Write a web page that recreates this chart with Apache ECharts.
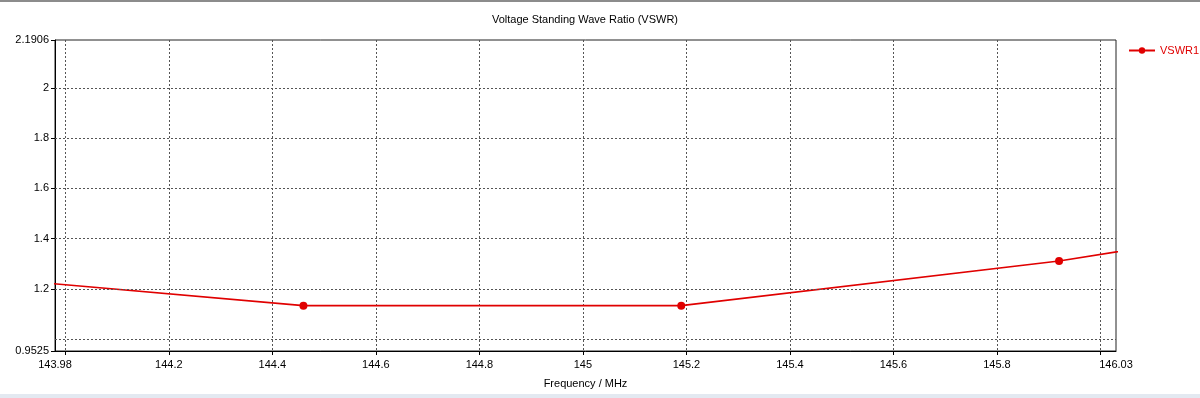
<!DOCTYPE html>
<html>
<head>
    <meta charset="utf-8">
    <script src="https://cdn.jsdelivr.net/npm/echarts@6/dist/echarts.min.js"></script>
    <style>
        html, body { margin: 0; padding: 0; background: #fff; }
    </style>
</head>
<body>
    <div id="main" style="width: 1200px;height:398px;"></div>
	<script type="text/javascript">
        // 数据
        var freqs = [143.73, 144.46, 145.19, 145.92, 146.65];
        var vswr1 = [1.265, 1.133, 1.133, 1.311, 1.55];
        var xTickLabels = ['143.98', '144.2', '144.4', '144.6', '144.8', '145', '145.2', '145.4', '145.6', '145.8', '146.03'];
        var xGridValues = [144.0, 144.2, 144.4, 144.6, 144.8, 145.0, 145.2, 145.4, 145.6, 145.8, 146.0];
        var yTickLabels = ['0.9525', '1.2', '1.4', '1.6', '1.8', '2', '2.1906'];
        var yGridValues = [1.0, 1.2, 1.4, 1.6, 1.8, 2.0];

        var font = 'Liberation Sans';
        function nums(list) {
            return list.map(function (s) { return parseFloat(s); });
        }

        var myChart = echarts.init(document.getElementById('main'));
		myChart.setOption({
            animation: false,
			title: {
				text: 'Voltage Standing Wave Ratio (VSWR)',
                left: 585, top: 14, textAlign: 'center', padding: 0,
                textStyle: { fontFamily: font, fontSize: 11, fontWeight: 'normal', color: '#000' }
			},
			legend: {
				data: ['VSWR1'],
                left: 1128, top: 45, padding: 0,
                itemWidth: 26, itemHeight: 8, itemGap: 4,
                textStyle: { fontFamily: font, fontSize: 11, color: '#e00000', padding: [0, 0, 0, 0] }
			},
            grid: {
                left: 55, right: 84, top: 40, bottom: 47,
                show: true, borderColor: '#222', borderWidth: 1, backgroundColor: '#fff'
            },
			xAxis: {
                type: 'value',
                min: 143.98, max: 146.03,
                name: 'Frequency / MHz', nameLocation: 'middle', nameGap: 27,
                nameTextStyle: { fontFamily: font, fontSize: 11, color: '#000' },
                axisLine: { onZero: false, lineStyle: { color: '#000' } },
                axisTick: { show: true, length: 4, customValues: xGridValues, lineStyle: { color: '#000' } },
                axisLabel: { customValues: nums(xTickLabels), formatter: function (v) {
                    return xTickLabels[nums(xTickLabels).indexOf(v)] || String(v);
                }, margin: 8, fontFamily: font, fontSize: 11, color: '#000' },
                splitLine: { show: true, lineStyle: { type: [2, 2], color: '#555' } }
            },
			yAxis: {
                type: 'value',
                min: 0.9525, max: 2.1906,
                axisLine: { show: true, lineStyle: { color: '#000' } },
                axisTick: { show: true, length: 4, customValues: nums(yTickLabels), lineStyle: { color: '#000' } },
                axisLabel: { customValues: nums(yTickLabels), formatter: function (v) {
                    return yTickLabels[nums(yTickLabels).indexOf(v)] || String(v);
                }, margin: 6, fontFamily: font, fontSize: 11, color: '#000' },
                splitLine: { show: false }
            },
            // y 网格线用第二个不显示的轴画
			series: [{
				name: 'VSWR1',
				type: 'line',
                data: freqs.map(function (f, i) { return [f, vswr1[i]]; }),
                symbol: 'circle', symbolSize: 8, showAllSymbol: true,
                clip: true,
                itemStyle: { color: '#e00000' },
                lineStyle: { color: '#e00000', width: 1.6 },
                markLine: {
                    silent: true, symbol: 'none', label: { show: false },
                    lineStyle: { type: [2, 2], color: '#555', width: 1 },
                    data: yGridValues.map(function (v) { return { yAxis: v }; })
                }
			}],
            graphic: [
                { type: 'rect', shape: { x: 0, y: 0, width: 1200, height: 2 }, style: { fill: '#8c8c8c' } },
                { type: 'rect', shape: { x: 0, y: 394, width: 1200, height: 4 }, style: { fill: '#e3e9f1' } }
            ]
		});
    </script>
</body>
</html>
